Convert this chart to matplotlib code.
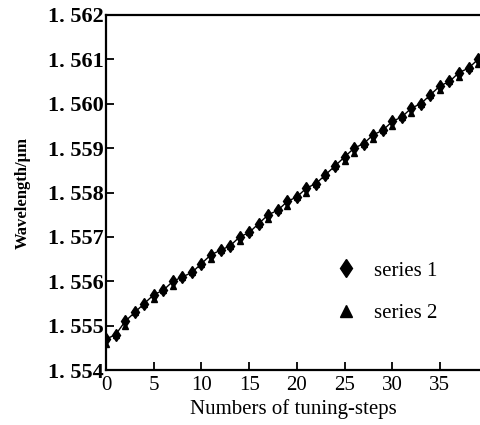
import numpy as np
import matplotlib
matplotlib.use("Agg")
import matplotlib.pyplot as plt

# tuning steps and measured wavelengths (um)
steps = np.arange(0, 40)
series1 = [1.5547, 1.5548, 1.5551, 1.5553, 1.5555, 1.5557, 1.5558, 1.5560,
           1.5561, 1.5562, 1.5564, 1.5566, 1.5567, 1.5568, 1.5570, 1.5571,
           1.5573, 1.5575, 1.5576, 1.5578, 1.5579, 1.5581, 1.5582, 1.5584,
           1.5586, 1.5588, 1.5590, 1.5591, 1.5593, 1.5594, 1.5596, 1.5597,
           1.5599, 1.5600, 1.5602, 1.5604, 1.5605, 1.5607, 1.5608, 1.5610]
series2 = [1.5546, 1.5548, 1.5550, 1.5553, 1.5555, 1.5556, 1.5558, 1.5559,
           1.5561, 1.5562, 1.5564, 1.5565, 1.5567, 1.5568, 1.5569, 1.5571,
           1.5573, 1.5574, 1.5576, 1.5577, 1.5579, 1.5580, 1.5582, 1.5584,
           1.5586, 1.5587, 1.5589, 1.5591, 1.5592, 1.5594, 1.5595, 1.5597,
           1.5598, 1.5600, 1.5602, 1.5603, 1.5605, 1.5606, 1.5608, 1.5609]

xticks = [0, 5, 10, 15, 20, 25, 30, 35]
yticks = [1.554, 1.555, 1.556, 1.557, 1.558, 1.559, 1.560, 1.561, 1.562]
ylabels = ["1. 554", "1. 555", "1. 556", "1. 557", "1. 558",
           "1. 559", "1. 560", "1. 561", "1. 562"]

plt.rcParams["font.family"] = ["Liberation Serif", "DejaVu Serif"]

fig = plt.figure(figsize=(4.8, 4.25), dpi=100)
ax = fig.add_axes([0.221, 0.129, 0.779, 0.836])

ax.plot(steps, series1, "-", color="black", lw=1.0)
ax.plot(steps, series1, "d", color="black", ms=6, label="series 1")
ax.plot(steps, series2, "^", color="black", ms=5, label="series 2")

ax.set_xlim(0, 39.2)
ax.set_ylim(1.554, 1.562)
ax.set_xticks(xticks)
ax.set_xticklabels([str(t) for t in xticks], fontsize=15)
ax.set_yticks(yticks)
ax.set_yticklabels(ylabels, fontsize=16, fontweight="bold")
ax.tick_params(direction="in", length=6, width=1.3)
ax.tick_params(axis="x", pad=4)
ax.tick_params(axis="y", pad=2)

for s in ["left", "bottom", "top"]:
    ax.spines[s].set_linewidth(1.6)
ax.spines["right"].set_visible(False)

ax.set_xlabel("Numbers of tuning-steps", fontsize=15, labelpad=3)
ax.set_ylabel("Wavelength/\u03bcm", fontsize=12, fontweight="bold", labelpad=12)

leg = ax.legend(loc="center", bbox_to_anchor=(0.75, 0.22), frameon=False,
                fontsize=15, handletextpad=0.8, labelspacing=1.1,
                handlelength=1.0, markerscale=1.6)

fig.savefig("out.png", dpi=100)
